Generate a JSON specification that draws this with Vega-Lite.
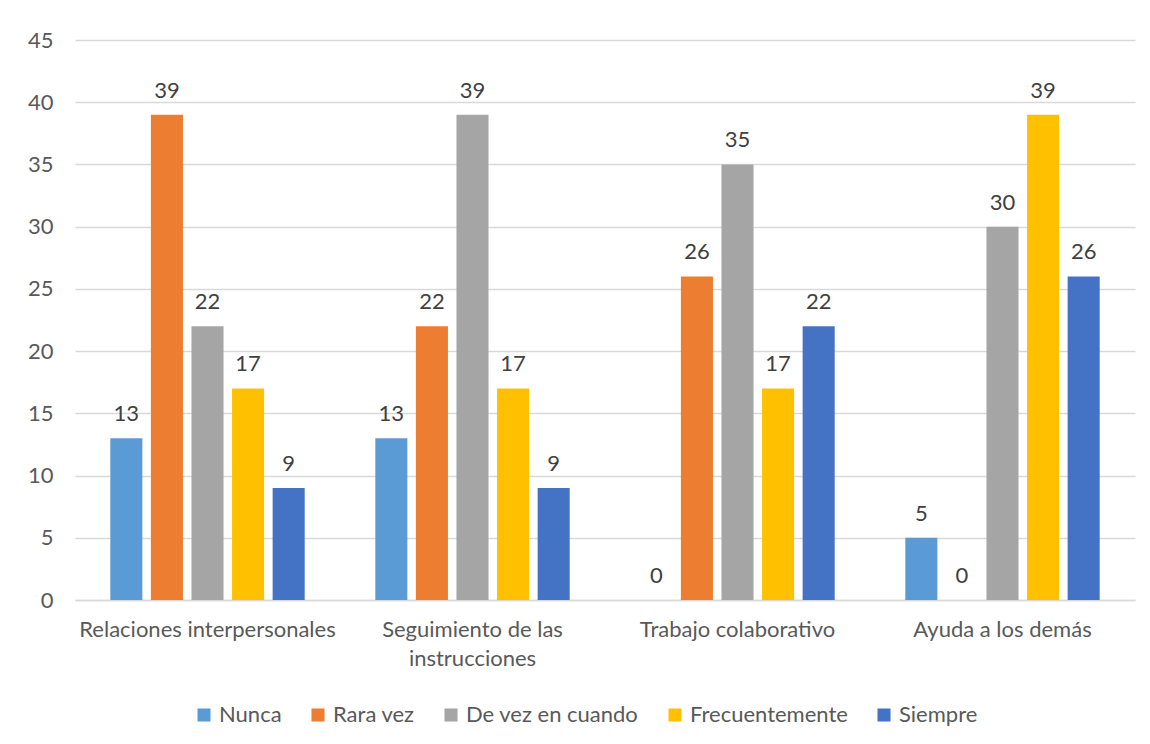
{
  "$schema": "https://vega.github.io/schema/vega-lite/v6.json",
  "width": 1060,
  "height": 560,
  "autosize": "none",
  "padding": {"left": 75, "top": 40, "right": 15, "bottom": 144},
  "background": "white",
  "data": {
    "values": [
      {"cat": "Relaciones interpersonales", "serie": "Nunca", "valor": 13},
      {"cat": "Relaciones interpersonales", "serie": "Rara vez", "valor": 39},
      {"cat": "Relaciones interpersonales", "serie": "De vez en cuando", "valor": 22},
      {"cat": "Relaciones interpersonales", "serie": "Frecuentemente", "valor": 17},
      {"cat": "Relaciones interpersonales", "serie": "Siempre", "valor": 9},
      {"cat": "Seguimiento de las instrucciones", "serie": "Nunca", "valor": 13},
      {"cat": "Seguimiento de las instrucciones", "serie": "Rara vez", "valor": 22},
      {"cat": "Seguimiento de las instrucciones", "serie": "De vez en cuando", "valor": 39},
      {"cat": "Seguimiento de las instrucciones", "serie": "Frecuentemente", "valor": 17},
      {"cat": "Seguimiento de las instrucciones", "serie": "Siempre", "valor": 9},
      {"cat": "Trabajo colaborativo", "serie": "Nunca", "valor": 0},
      {"cat": "Trabajo colaborativo", "serie": "Rara vez", "valor": 26},
      {"cat": "Trabajo colaborativo", "serie": "De vez en cuando", "valor": 35},
      {"cat": "Trabajo colaborativo", "serie": "Frecuentemente", "valor": 17},
      {"cat": "Trabajo colaborativo", "serie": "Siempre", "valor": 22},
      {"cat": "Ayuda a los demás", "serie": "Nunca", "valor": 5},
      {"cat": "Ayuda a los demás", "serie": "Rara vez", "valor": 0},
      {"cat": "Ayuda a los demás", "serie": "De vez en cuando", "valor": 30},
      {"cat": "Ayuda a los demás", "serie": "Frecuentemente", "valor": 39},
      {"cat": "Ayuda a los demás", "serie": "Siempre", "valor": 26}
    ]
  },
  "encoding": {
    "x": {
      "field": "cat",
      "type": "nominal",
      "sort": null,
      "scale": {"paddingInner": 0, "paddingOuter": 0},
      "axis": {
        "title": null,
        "labelAngle": 0,
        "labelFont": "Lato",
        "labelFontSize": 22,
        "labelColor": "#595959",
        "labelPadding": 19,
        "labelLimit": 0,
        "ticks": false,
        "domainColor": "#D9D9D9",
        "domainWidth": 1.5,
        "labelLineHeight": 29,
        "labelExpr": "datum.value == 'Seguimiento de las instrucciones' ? ['Seguimiento de las', 'instrucciones'] : datum.value"
      }
    },
    "xOffset": {
      "field": "serie",
      "type": "nominal",
      "sort": ["Nunca", "Rara vez", "De vez en cuando", "Frecuentemente", "Siempre"],
      "scale": {"paddingInner": 0.21, "paddingOuter": 0.87}
    },
    "y": {
      "field": "valor",
      "type": "quantitative",
      "scale": {"domain": [0, 45], "nice": false},
      "axis": {
        "title": null,
        "values": [0, 5, 10, 15, 20, 25, 30, 35, 40, 45],
        "domain": false,
        "ticks": false,
        "labelFont": "Lato",
        "labelFontSize": 22,
        "labelColor": "#595959",
        "labelPadding": 22,
        "gridColor": "#D9D9D9",
        "gridWidth": 1.5
      }
    }
  },
  "layer": [
    {
      "mark": {"type": "bar"},
      "encoding": {
        "color": {
          "field": "serie",
          "type": "nominal",
          "sort": ["Nunca", "Rara vez", "De vez en cuando", "Frecuentemente", "Siempre"],
          "scale": {
            "domain": ["Nunca", "Rara vez", "De vez en cuando", "Frecuentemente", "Siempre"],
            "range": ["#5B9BD5", "#ED7D31", "#A5A5A5", "#FFC000", "#4472C4"]
          },
          "legend": {
            "title": null,
            "orient": "none",
            "legendX": 118,
            "legendY": 664,
            "direction": "horizontal",
            "symbolType": "square",
            "symbolSize": 170,
            "symbolStrokeWidth": 0,
            "labelFont": "Lato",
            "labelFontSize": 22,
            "labelColor": "#595959",
            "labelOffset": 4,
            "labelLimit": 0,
            "columnPadding": 25
          }
        }
      }
    },
    {
      "mark": {"type": "text", "baseline": "bottom", "dy": -12, "font": "Lato", "fontSize": 22, "color": "#404040"},
      "encoding": {
        "text": {"field": "valor", "type": "quantitative"}
      }
    }
  ],
  "config": {
    "view": {"stroke": null}
  }
}
